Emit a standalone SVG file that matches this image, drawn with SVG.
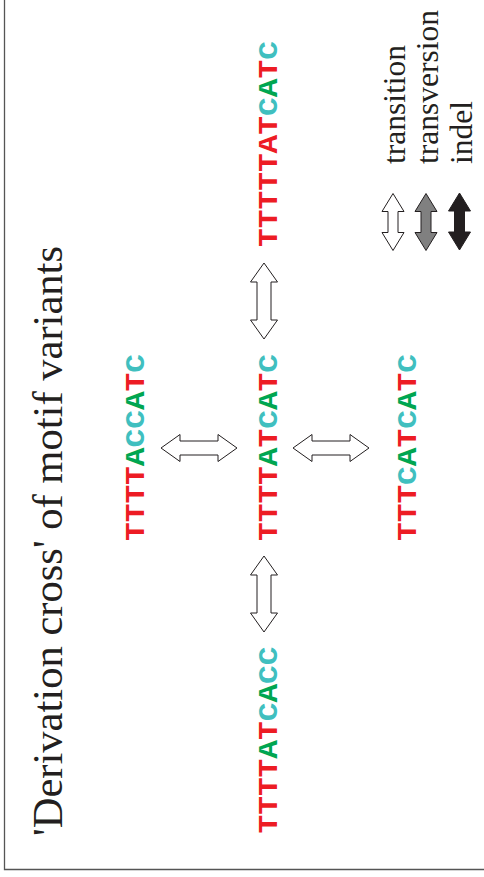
<svg xmlns="http://www.w3.org/2000/svg" width="484" height="877" viewBox="0 0 484 877">
  <style>
    .title { font-family: "Liberation Serif", "Times New Roman", serif; font-size: 42px; fill: #231f20; }
    .leg { font-family: "Liberation Serif", "Times New Roman", serif; font-size: 31.5px; fill: #231f20; }
    .seq { font-family: "Liberation Mono", "Courier New", monospace; font-weight: bold; font-size: 28.5px; text-anchor: middle; }
    .t { fill: #ed1c24; }
    .a { fill: #00a651; }
    .c { fill: #40bfbf; }
    .arrow { fill: #ffffff; stroke: #231f20; stroke-width: 1; stroke-linejoin: miter; }
    .larrow { stroke: #231f20; stroke-width: 1; }
  </style>
  <defs>
    <path id="dbl" d="M-38,0 L-19,-13.5 L-19,-7 L19,-7 L19,-13.5 L38,0 L19,13.5 L19,7 L-19,7 L-19,13.5 Z"/>
    <path id="ldbl" d="M0,-28.5 L11,-10.5 L5,-10.5 L5,10.5 L11,10.5 L0,28.5 L-11,10.5 L-5,10.5 L-5,-10.5 L-11,-10.5 Z"/>
  </defs>
  <rect width="484" height="877" fill="#ffffff"/>
  <path d="M4.5,0 V869.5 H484" fill="none" stroke="#555555" stroke-width="1.3"/>

  <g id="title">
    <text class="title" transform="translate(62,836) rotate(-90)" textLength="590" lengthAdjust="spacingAndGlyphs">'Derivation cross' of motif variants</text>
  </g>

  <g id="seq-top">
    <text class="seq" transform="translate(277,144) rotate(-90)" textLength="206" lengthAdjust="spacingAndGlyphs"><tspan class="t">TTTTTAT</tspan><tspan class="c">C</tspan><tspan class="a">A</tspan><tspan class="t">T</tspan><tspan class="c">C</tspan></text>
  </g>
  <g id="seq-left">
    <text class="seq" transform="translate(143.5,447.5) rotate(-90)" textLength="187" lengthAdjust="spacingAndGlyphs"><tspan class="t">TTTT</tspan><tspan class="a">A</tspan><tspan class="c">CC</tspan><tspan class="a">A</tspan><tspan class="t">T</tspan><tspan class="c">C</tspan></text>
  </g>
  <g id="seq-center">
    <text class="seq" transform="translate(277,447.5) rotate(-90)" textLength="187" lengthAdjust="spacingAndGlyphs"><tspan class="t">TTTT</tspan><tspan class="a">A</tspan><tspan class="t">T</tspan><tspan class="c">C</tspan><tspan class="a">A</tspan><tspan class="t">T</tspan><tspan class="c">C</tspan></text>
  </g>
  <g id="seq-right">
    <text class="seq" transform="translate(416,447.5) rotate(-90)" textLength="187" lengthAdjust="spacingAndGlyphs"><tspan class="t">TTT</tspan><tspan class="c">C</tspan><tspan class="a">A</tspan><tspan class="t">T</tspan><tspan class="c">C</tspan><tspan class="a">A</tspan><tspan class="t">T</tspan><tspan class="c">C</tspan></text>
  </g>
  <g id="seq-bottom">
    <text class="seq" transform="translate(277,740) rotate(-90)" textLength="187" lengthAdjust="spacingAndGlyphs"><tspan class="t">TTTT</tspan><tspan class="a">A</tspan><tspan class="t">T</tspan><tspan class="c">C</tspan><tspan class="a">A</tspan><tspan class="c">CC</tspan></text>
  </g>

  <g id="connectors">
    <use href="#dbl" class="arrow" transform="translate(264,301) rotate(90)"/>
    <use href="#dbl" class="arrow" transform="translate(264,594) rotate(90)"/>
    <use href="#dbl" class="arrow" transform="translate(199,448)"/>
    <use href="#dbl" class="arrow" transform="translate(331,448)"/>
  </g>

  <g id="legend">
    <use href="#ldbl" class="larrow" fill="#ffffff" transform="translate(393,222)"/>
    <use href="#ldbl" class="larrow" fill="#808080" transform="translate(426,222)"/>
    <use href="#ldbl" class="larrow" fill="#231f20" transform="translate(459.5,221.5)"/>
    <text class="leg" transform="translate(404.5,164) rotate(-90)">transition</text>
    <text class="leg" transform="translate(438,164) rotate(-90)">transversion</text>
    <text class="leg" transform="translate(471.5,164) rotate(-90)">indel</text>
  </g>
</svg>
